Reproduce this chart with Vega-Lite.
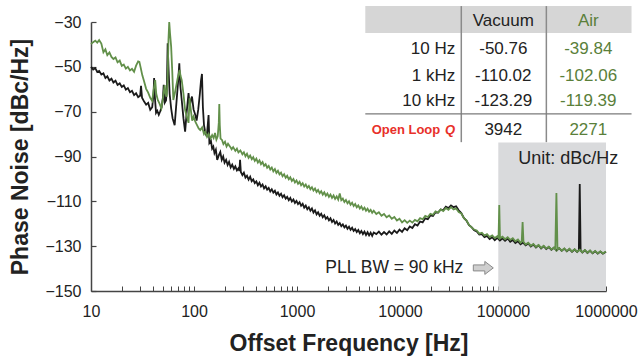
{
"$schema": "https://vega.github.io/schema/vega-lite/v6.json",
"width": 515, "height": 269,
"autosize": {"type": "none"},
"padding": {"left": 91, "top": 22, "right": 34, "bottom": 71},
"background": "white",
"config": {"view": {"stroke": null}, "font": "Liberation Sans"},
"datasets": {
"vac": [
{"f":10,"v":-50.0},{"f":10.5,"v":-51.2},{"f":11,"v":-50.6},{"f":11.5,"v":-52.3},{"f":12,"v":-51.8},{"f":12.6,"v":-53.4},{"f":13.2,"v":-52.9},{"f":13.8,"v":-55.0},{"f":14.4,"v":-54.2},{"f":15.1,"v":-56.1},{"f":15.8,"v":-55.3},{"f":16.5,"v":-57.0},{"f":17.3,"v":-56.2},{"f":18.1,"v":-58.1},{"f":19,"v":-57.4},{"f":19.9,"v":-59.0},{"f":20.8,"v":-58.3},{"f":21.8,"v":-60.2},{"f":22.8,"v":-59.5},{"f":23.9,"v":-61.3},{"f":25,"v":-60.7},{"f":26.2,"v":-62.6},{"f":27.4,"v":-61.8},{"f":28.7,"v":-63.5},{"f":30,"v":-62.9},{"f":30.6,"v":-58.5},{"f":31.3,"v":-63.8},{"f":32.8,"v":-65.5},{"f":34.3,"v":-66.9},{"f":35.9,"v":-66.1},{"f":37.6,"v":-69.2},{"f":39.3,"v":-68.0},{"f":40.5,"v":-62.0},{"f":41,"v":-55.0},{"f":41.7,"v":-63.5},{"f":42.8,"v":-70.5},{"f":44,"v":-69.6},{"f":45.5,"v":-71.4},{"f":47,"v":-69.8},{"f":48.5,"v":-68.0},{"f":50,"v":-63.5},{"f":50.8,"v":-58.0},{"f":52,"v":-66.0},{"f":53.5,"v":-65.0},{"f":54.5,"v":-60.0},{"f":55.5,"v":-39.5},{"f":56.5,"v":-50.0},{"f":58,"v":-62.0},{"f":60,"v":-68.5},{"f":62,"v":-73.0},{"f":64.9,"v":-76.0},{"f":67,"v":-68.0},{"f":70,"v":-57.0},{"f":72,"v":-48.4},{"f":73.5,"v":-58.0},{"f":76,"v":-64.8},{"f":79,"v":-73.0},{"f":82,"v":-78.9},{"f":85,"v":-70.0},{"f":88.5,"v":-61.7},{"f":91,"v":-68.0},{"f":93,"v":-65.0},{"f":95.6,"v":-63.3},{"f":99,"v":-69.0},{"f":103,"v":-71.5},{"f":106,"v":-74.0},{"f":110,"v":-69.0},{"f":114,"v":-62.0},{"f":117,"v":-56.0},{"f":119.5,"v":-53.2},{"f":122,"v":-68.0},{"f":125,"v":-76.0},{"f":129,"v":-79.5},{"f":133,"v":-81.0},{"f":136,"v":-76.0},{"f":138.5,"v":-71.5},{"f":141,"v":-84.0},{"f":146,"v":-83.0},{"f":150,"v":-86.5},{"f":154,"v":-85.6},{"f":158,"v":-88.5},{"f":163,"v":-87.0},{"f":168,"v":-91.5},{"f":174,"v":-89.5},{"f":180,"v":-88.0},{"f":186,"v":-91.5},{"f":192,"v":-90.0},{"f":198,"v":-92.8},{"f":205,"v":-91.5},{"f":212,"v":-93.8},{"f":219,"v":-92.4},{"f":227,"v":-94.9},{"f":235,"v":-93.6},{"f":244,"v":-95.5},{"f":252,"v":-94.4},{"f":261,"v":-96.2},{"f":270,"v":-95.3},{"f":276,"v":-96.4},{"f":280,"v":-91.5},{"f":285,"v":-96.9},{"f":295,"v":-98.3},{"f":305,"v":-97.2},{"f":316,"v":-99.4},{"f":327,"v":-98.6},{"f":339,"v":-100.3},{"f":351,"v":-99.0},{"f":363,"v":-101.0},{"f":376,"v":-100.2},{"f":389,"v":-101.9},{"f":403,"v":-101.1},{"f":417,"v":-102.8},{"f":432,"v":-101.7},{"f":447,"v":-103.4},{"f":463,"v":-102.5},{"f":479,"v":-104.2},{"f":496,"v":-103.3},{"f":513,"v":-104.8},{"f":531,"v":-104.0},{"f":550,"v":-105.6},{"f":569,"v":-104.6},{"f":589,"v":-106.1},{"f":610,"v":-105.3},{"f":631,"v":-106.9},{"f":653,"v":-106.0},{"f":676,"v":-107.5},{"f":700,"v":-106.6},{"f":724,"v":-108.2},{"f":750,"v":-107.3},{"f":776,"v":-108.8},{"f":803,"v":-108.0},{"f":832,"v":-109.5},{"f":861,"v":-108.5},{"f":891,"v":-110.1},{"f":923,"v":-109.2},{"f":955,"v":-110.7},{"f":989,"v":-109.8},{"f":1023,"v":-111.2},{"f":1059,"v":-110.4},{"f":1096,"v":-112.0},{"f":1135,"v":-111.1},{"f":1175,"v":-112.8},{"f":1216,"v":-111.9},{"f":1259,"v":-113.5},{"f":1303,"v":-112.6},{"f":1349,"v":-114.2},{"f":1396,"v":-113.2},{"f":1445,"v":-115.0},{"f":1496,"v":-114.0},{"f":1549,"v":-115.8},{"f":1603,"v":-114.9},{"f":1660,"v":-116.4},{"f":1718,"v":-115.5},{"f":1778,"v":-117.1},{"f":1841,"v":-116.2},{"f":1905,"v":-117.8},{"f":1972,"v":-117.0},{"f":2042,"v":-118.5},{"f":2113,"v":-117.6},{"f":2188,"v":-119.2},{"f":2265,"v":-118.3},{"f":2344,"v":-119.9},{"f":2427,"v":-119.0},{"f":2512,"v":-120.5},{"f":2600,"v":-119.7},{"f":2692,"v":-121.1},{"f":2786,"v":-120.3},{"f":2884,"v":-121.6},{"f":2985,"v":-120.8},{"f":3090,"v":-122.2},{"f":3199,"v":-121.3},{"f":3311,"v":-122.7},{"f":3428,"v":-121.8},{"f":3548,"v":-123.2},{"f":3673,"v":-122.4},{"f":3802,"v":-123.7},{"f":3936,"v":-122.8},{"f":4074,"v":-124.2},{"f":4217,"v":-123.2},{"f":4365,"v":-124.6},{"f":4519,"v":-123.5},{"f":4677,"v":-125.0},{"f":4842,"v":-123.8},{"f":5012,"v":-125.2},{"f":5188,"v":-124.0},{"f":5370,"v":-125.4},{"f":5559,"v":-123.9},{"f":5888,"v":-124.6},{"f":6237,"v":-123.5},{"f":6607,"v":-124.9},{"f":6998,"v":-123.7},{"f":7413,"v":-124.8},{"f":7852,"v":-123.4},{"f":8318,"v":-124.5},{"f":8810,"v":-123.0},{"f":9333,"v":-124.1},{"f":9886,"v":-122.6},{"f":10471,"v":-123.6},{"f":11092,"v":-122.0},{"f":11749,"v":-122.9},{"f":12445,"v":-121.2},{"f":13183,"v":-121.9},{"f":13964,"v":-120.2},{"f":14791,"v":-120.8},{"f":15668,"v":-119.0},{"f":16596,"v":-119.4},{"f":17579,"v":-117.6},{"f":18621,"v":-118.0},{"f":19724,"v":-116.3},{"f":20893,"v":-116.5},{"f":22131,"v":-114.9},{"f":23442,"v":-115.0},{"f":24831,"v":-113.6},{"f":26303,"v":-113.9},{"f":27861,"v":-112.4},{"f":29512,"v":-113.0},{"f":31261,"v":-111.8},{"f":33113,"v":-112.6},{"f":35075,"v":-112.2},{"f":37154,"v":-114.0},{"f":39355,"v":-115.2},{"f":41687,"v":-117.4},{"f":44157,"v":-118.6},{"f":46774,"v":-120.6},{"f":49545,"v":-121.5},{"f":52481,"v":-122.9},{"f":55590,"v":-123.4},{"f":58884,"v":-124.8},{"f":62373,"v":-124.6},{"f":66069,"v":-126.0},{"f":69984,"v":-125.4},{"f":74131,"v":-126.8},{"f":78524,"v":-126.0},{"f":83176,"v":-127.3},{"f":88105,"v":-126.3},{"f":93325,"v":-127.5},{"f":98855,"v":-126.5},{"f":104713,"v":-127.6},{"f":110917,"v":-126.6},{"f":117490,"v":-128.0},{"f":124451,"v":-127.2},{"f":131826,"v":-128.6},{"f":139637,"v":-127.8},{"f":147911,"v":-129.2},{"f":156675,"v":-128.4},{"f":165959,"v":-129.6},{"f":175792,"v":-128.8},{"f":186209,"v":-130.2},{"f":197242,"v":-129.3},{"f":208930,"v":-130.6},{"f":221309,"v":-129.6},{"f":234423,"v":-131.0},{"f":248313,"v":-130.0},{"f":263027,"v":-131.3},{"f":278612,"v":-130.4},{"f":295121,"v":-131.6},{"f":312607,"v":-130.7},{"f":331131,"v":-131.9},{"f":350752,"v":-130.9},{"f":371535,"v":-132.1},{"f":393550,"v":-131.1},{"f":416869,"v":-132.3},{"f":441570,"v":-131.3},{"f":467735,"v":-132.5},{"f":495450,"v":-131.5},{"f":524807,"v":-132.6},{"f":545000,"v":-131.8},{"f":556000,"v":-102.3},{"f":567000,"v":-131.9},{"f":588843,"v":-132.8},{"f":623735,"v":-131.8},{"f":660693,"v":-133.0},{"f":699842,"v":-132.0},{"f":741310,"v":-133.2},{"f":785236,"v":-132.2},{"f":831764,"v":-133.3},{"f":881049,"v":-132.4},{"f":933254,"v":-133.3},{"f":1000000,"v":-132.5}
],
"air": [
{"f":10,"v":-39.8},{"f":10.5,"v":-39.0},{"f":11,"v":-38.3},{"f":11.5,"v":-39.2},{"f":12,"v":-38.1},{"f":12.6,"v":-39.6},{"f":13.2,"v":-43.5},{"f":13.8,"v":-42.2},{"f":14.4,"v":-44.8},{"f":15.1,"v":-43.6},{"f":15.8,"v":-45.6},{"f":16.5,"v":-46.5},{"f":17.3,"v":-45.8},{"f":18.1,"v":-48.0},{"f":19,"v":-47.2},{"f":19.9,"v":-49.6},{"f":20.8,"v":-49.0},{"f":21.8,"v":-50.8},{"f":22.8,"v":-50.0},{"f":23.9,"v":-51.6},{"f":25,"v":-50.9},{"f":26.2,"v":-52.2},{"f":27.4,"v":-49.5},{"f":28.7,"v":-47.6},{"f":29.5,"v":-47.8},{"f":30.4,"v":-50.5},{"f":31.5,"v":-53.8},{"f":32.8,"v":-56.5},{"f":34.3,"v":-59.8},{"f":35.9,"v":-61.5},{"f":37.6,"v":-63.8},{"f":39.3,"v":-65.2},{"f":40.5,"v":-60.5},{"f":42,"v":-55.9},{"f":43,"v":-62.0},{"f":44.5,"v":-64.8},{"f":46.4,"v":-66.5},{"f":48.2,"v":-68.5},{"f":50,"v":-64.0},{"f":51.9,"v":-58.2},{"f":53,"v":-62.0},{"f":54.3,"v":-63.3},{"f":55.5,"v":-55.0},{"f":56.5,"v":-38.0},{"f":57.5,"v":-30.0},{"f":58.5,"v":-35.0},{"f":60,"v":-41.0},{"f":61.5,"v":-52.0},{"f":63,"v":-64.8},{"f":65,"v":-62.0},{"f":67,"v":-58.8},{"f":69.5,"v":-55.0},{"f":72.5,"v":-51.4},{"f":74,"v":-54.0},{"f":76,"v":-55.9},{"f":79,"v":-62.0},{"f":82,"v":-69.3},{"f":85,"v":-72.0},{"f":88.5,"v":-75.0},{"f":90.5,"v":-64.0},{"f":93,"v":-69.0},{"f":96,"v":-74.0},{"f":99,"v":-72.2},{"f":103,"v":-74.5},{"f":107,"v":-76.0},{"f":111,"v":-77.5},{"f":115,"v":-78.2},{"f":120,"v":-77.0},{"f":125,"v":-80.0},{"f":129,"v":-79.0},{"f":134,"v":-81.2},{"f":139,"v":-80.0},{"f":145,"v":-82.0},{"f":150,"v":-80.5},{"f":155,"v":-81.8},{"f":160,"v":-79.5},{"f":165,"v":-82.5},{"f":170,"v":-81.0},{"f":174,"v":-75.0},{"f":176,"v":-66.6},{"f":178,"v":-76.0},{"f":181,"v":-82.0},{"f":187,"v":-82.6},{"f":193,"v":-84.4},{"f":200,"v":-83.4},{"f":207,"v":-85.5},{"f":214,"v":-84.3},{"f":224,"v":-85.6},{"f":232,"v":-86.8},{"f":240,"v":-85.8},{"f":252,"v":-87.5},{"f":261,"v":-86.5},{"f":270,"v":-88.2},{"f":282,"v":-87.3},{"f":295,"v":-89.0},{"f":305,"v":-88.1},{"f":316,"v":-89.9},{"f":327,"v":-88.8},{"f":339,"v":-90.6},{"f":351,"v":-89.6},{"f":364,"v":-91.2},{"f":376,"v":-90.3},{"f":389,"v":-92.0},{"f":403,"v":-91.0},{"f":417,"v":-92.7},{"f":432,"v":-91.7},{"f":447,"v":-93.4},{"f":463,"v":-92.5},{"f":479,"v":-94.2},{"f":496,"v":-93.4},{"f":513,"v":-95.0},{"f":531,"v":-94.2},{"f":550,"v":-95.8},{"f":569,"v":-94.9},{"f":589,"v":-96.6},{"f":610,"v":-95.6},{"f":631,"v":-97.3},{"f":653,"v":-96.4},{"f":676,"v":-98.0},{"f":700,"v":-97.2},{"f":724,"v":-98.8},{"f":750,"v":-97.9},{"f":776,"v":-99.5},{"f":803,"v":-98.6},{"f":832,"v":-100.2},{"f":861,"v":-99.3},{"f":891,"v":-100.9},{"f":923,"v":-100.0},{"f":955,"v":-101.6},{"f":989,"v":-100.7},{"f":1023,"v":-102.2},{"f":1059,"v":-101.3},{"f":1096,"v":-102.8},{"f":1135,"v":-101.9},{"f":1175,"v":-103.4},{"f":1216,"v":-102.5},{"f":1259,"v":-104.0},{"f":1303,"v":-103.1},{"f":1349,"v":-104.6},{"f":1396,"v":-103.7},{"f":1445,"v":-105.2},{"f":1496,"v":-104.3},{"f":1549,"v":-105.8},{"f":1603,"v":-104.9},{"f":1660,"v":-106.4},{"f":1718,"v":-105.5},{"f":1778,"v":-107.0},{"f":1841,"v":-106.0},{"f":1905,"v":-107.5},{"f":1972,"v":-106.5},{"f":2042,"v":-108.0},{"f":2113,"v":-107.0},{"f":2188,"v":-108.5},{"f":2265,"v":-107.4},{"f":2344,"v":-108.9},{"f":2427,"v":-107.8},{"f":2512,"v":-109.2},{"f":2600,"v":-106.5},{"f":2692,"v":-109.5},{"f":2786,"v":-108.8},{"f":2884,"v":-110.3},{"f":2985,"v":-109.4},{"f":3090,"v":-110.9},{"f":3199,"v":-110.0},{"f":3311,"v":-111.5},{"f":3428,"v":-110.6},{"f":3548,"v":-112.1},{"f":3673,"v":-111.2},{"f":3802,"v":-112.7},{"f":3936,"v":-111.8},{"f":4074,"v":-113.2},{"f":4217,"v":-112.3},{"f":4365,"v":-113.7},{"f":4519,"v":-112.8},{"f":4677,"v":-114.2},{"f":4842,"v":-113.3},{"f":5012,"v":-114.6},{"f":5188,"v":-113.8},{"f":5370,"v":-115.1},{"f":5559,"v":-114.2},{"f":5888,"v":-115.7},{"f":6237,"v":-114.9},{"f":6607,"v":-116.4},{"f":6998,"v":-115.6},{"f":7413,"v":-117.1},{"f":7852,"v":-116.3},{"f":8318,"v":-117.8},{"f":8810,"v":-117.0},{"f":9333,"v":-118.6},{"f":9886,"v":-117.8},{"f":10471,"v":-119.4},{"f":11092,"v":-118.4},{"f":11749,"v":-119.6},{"f":12445,"v":-118.6},{"f":13183,"v":-119.5},{"f":13964,"v":-118.3},{"f":14791,"v":-118.9},{"f":15668,"v":-117.5},{"f":16596,"v":-118.0},{"f":17579,"v":-116.5},{"f":18621,"v":-117.0},{"f":19724,"v":-115.6},{"f":20893,"v":-116.0},{"f":22131,"v":-114.5},{"f":23442,"v":-115.0},{"f":24831,"v":-113.6},{"f":26303,"v":-114.3},{"f":27861,"v":-113.0},{"f":29512,"v":-113.8},{"f":31261,"v":-112.6},{"f":33113,"v":-113.6},{"f":35075,"v":-113.2},{"f":37154,"v":-114.8},{"f":39355,"v":-115.4},{"f":41687,"v":-117.5},{"f":44157,"v":-118.5},{"f":46774,"v":-120.5},{"f":49545,"v":-121.6},{"f":52481,"v":-122.6},{"f":55590,"v":-123.0},{"f":58884,"v":-124.4},{"f":62373,"v":-124.0},{"f":66069,"v":-125.3},{"f":69984,"v":-124.6},{"f":74131,"v":-125.9},{"f":78524,"v":-125.2},{"f":83176,"v":-126.4},{"f":88105,"v":-125.6},{"f":90500,"v":-126.2},{"f":92000,"v":-111.6},{"f":93500,"v":-126.5},{"f":98855,"v":-125.8},{"f":104713,"v":-126.9},{"f":110917,"v":-126.0},{"f":117490,"v":-127.2},{"f":124451,"v":-126.4},{"f":131826,"v":-127.8},{"f":139637,"v":-127.0},{"f":147911,"v":-128.5},{"f":152000,"v":-127.8},{"f":155000,"v":-119.2},{"f":158000,"v":-128.0},{"f":165959,"v":-129.3},{"f":175792,"v":-128.5},{"f":186209,"v":-129.8},{"f":197242,"v":-129.0},{"f":208930,"v":-130.4},{"f":221309,"v":-129.5},{"f":234423,"v":-130.8},{"f":248313,"v":-129.8},{"f":263027,"v":-131.1},{"f":278612,"v":-130.2},{"f":295121,"v":-131.5},{"f":312607,"v":-130.6},{"f":322000,"v":-131.4},{"f":330000,"v":-106.3},{"f":338000,"v":-131.6},{"f":350752,"v":-130.8},{"f":371535,"v":-132.0},{"f":393550,"v":-131.0},{"f":416869,"v":-132.2},{"f":441570,"v":-131.2},{"f":467735,"v":-132.4},{"f":495450,"v":-131.4},{"f":524807,"v":-132.5},{"f":556000,"v":-131.6},{"f":588843,"v":-132.7},{"f":623735,"v":-131.7},{"f":660693,"v":-132.9},{"f":699842,"v":-131.9},{"f":741310,"v":-133.1},{"f":785236,"v":-132.1},{"f":831764,"v":-133.2},{"f":881049,"v":-132.3},{"f":933254,"v":-133.2},{"f":1000000,"v":-132.4}
]
},
"encoding": {
"x": {"field": "f", "type": "quantitative",
  "scale": {"type": "log", "domain": [10, 1000000], "nice": false},
  "axis": {"title": "Offset Frequency [Hz]",
    "values": [10,20,30,40,50,60,70,80,90,100,200,300,400,500,600,700,800,900,1000,2000,3000,4000,5000,6000,7000,8000,9000,10000,20000,30000,40000,50000,60000,70000,80000,90000,100000,200000,300000,400000,500000,600000,700000,800000,900000,1000000],
    "labelExpr": "indexof(['10','100','1000','10000','100000','1000000'], '' + datum.value) >= 0 ? '' + datum.value : ''",
    "grid": false, "tickSize": -5, "tickColor": "#444", "tickWidth": 1,
    "domainColor": "#444", "domainWidth": 1.5,
    "labelFont": "Liberation Sans", "labelFontSize": 16, "labelColor": "#222",
    "labelPadding": 17, "labelOverlap": false, "labelFlush": false, "labelBound": false,
    "titleFont": "Liberation Sans", "titleFontSize": 23, "titleFontWeight": "bold", "titleColor": "#222", "titlePadding": 13}},
"y": {"field": "v", "type": "quantitative",
  "scale": {"domain": [-150, -30], "nice": false, "zero": false},
  "axis": {"title": "Phase Noise [dBc/Hz]",
    "values": [-150,-130,-110,-90,-70,-50,-30],
    "grid": false, "tickSize": -5, "tickColor": "#444", "tickWidth": 1.2,
    "domainColor": "#444", "domainWidth": 1.5,
    "labelFont": "Liberation Sans", "labelFontSize": 16, "labelColor": "#222",
    "labelPadding": 15, "labelOverlap": false,
    "titleFont": "Liberation Sans", "titleFontSize": 23, "titleFontWeight": "bold", "titleColor": "#222", "titlePadding": 12}}
},
"layer": [
{"data": {"values": [{"f": 90000, "f2": 1000000, "v": -150, "v2": -83.8}]},
 "mark": {"type": "rect", "color": "#d9dadc"},
 "encoding": {"x2": {"field": "f2"}, "y2": {"field": "v2"}}},
{"data": {"values": [{"f": 4603, "f2": 1770000, "v": -22.9, "v2": -34.9}]},
 "mark": {"type": "rect", "color": "#d6d6d6"},
 "encoding": {"x2": {"field": "f2"}, "y2": {"field": "v2"}}},
{"data": {"values": [{"f": 39360, "v": -22.9, "v2": -83.6}, {"f": 263600, "v": -22.9, "v2": -83.6}]},
 "mark": {"type": "rule", "color": "#8a8a8a", "strokeWidth": 1.5},
 "encoding": {"y2": {"field": "v2"}}},
{"data": {"values": [{"f": 4603, "f2": 1770000, "v": -71.0}]},
 "mark": {"type": "rule", "color": "#7a7a7a", "strokeWidth": 1.3},
 "encoding": {"x2": {"field": "f2"}}},
{"data": {"name": "vac"},
 "mark": {"type": "line", "color": "#1a1a1a", "strokeWidth": 1.8}},
{"data": {"name": "air"},
 "mark": {"type": "line", "color": "#62904a", "strokeWidth": 1.8}},
{"data": {"values": [{"f": 34360, "v": -42.1, "t": "10 Hz"}, {"f": 34360, "v": -54.1, "t": "1 kHz"}, {"f": 34360, "v": -65.2, "t": "10 kHz"}]},
 "mark": {"type": "text", "align": "right", "baseline": "middle", "font": "Liberation Sans", "fontSize": 17, "color": "#222"},
 "encoding": {"text": {"field": "t"}}},
{"data": {"values": [{"f": 100700, "v": -29.6, "t": "Vacuum"}, {"f": 100700, "v": -42.1, "t": "-50.76"}, {"f": 100700, "v": -54.1, "t": "-110.02"}, {"f": 100700, "v": -65.2, "t": "-123.29"}, {"f": 100700, "v": -78.2, "t": "3942"}]},
 "mark": {"type": "text", "align": "center", "baseline": "middle", "font": "Liberation Sans", "fontSize": 17, "color": "#222"},
 "encoding": {"text": {"field": "t"}}},
{"data": {"values": [{"f": 673000, "v": -29.6, "t": "Air"}, {"f": 673000, "v": -42.1, "t": "-39.84"}, {"f": 673000, "v": -54.1, "t": "-102.06"}, {"f": 673000, "v": -65.2, "t": "-119.39"}, {"f": 673000, "v": -78.2, "t": "2271"}]},
 "mark": {"type": "text", "align": "center", "baseline": "middle", "font": "Liberation Sans", "fontSize": 17, "color": "#5a7f3a"},
 "encoding": {"text": {"field": "t"}}},
{"data": {"values": [{"f": 24600, "v": -78.2, "t": "Open Loop"}]},
 "mark": {"type": "text", "align": "right", "baseline": "middle", "font": "Liberation Sans", "fontSize": 13, "fontWeight": "bold", "color": "#e8302a"},
 "encoding": {"text": {"field": "t"}}},
{"data": {"values": [{"f": 34360, "v": -78.2, "t": "Q"}]},
 "mark": {"type": "text", "align": "right", "baseline": "middle", "font": "Liberation Sans", "fontSize": 13, "fontWeight": "bold", "fontStyle": "italic", "color": "#e8302a"},
 "encoding": {"text": {"field": "t"}}},
{"data": {"values": [{"f": 430500, "v": -91.1, "t": "Unit: dBc/Hz"}]},
 "mark": {"type": "text", "align": "center", "baseline": "middle", "font": "Liberation Sans", "fontSize": 18, "color": "#222"},
 "encoding": {"text": {"field": "t"}}},
{"data": {"values": [{"f": 41180, "v": -139.7, "t": "PLL BW = 90 kHz"}]},
 "mark": {"type": "text", "align": "right", "baseline": "middle", "font": "Liberation Sans", "fontSize": 17.5, "color": "#222"},
 "encoding": {"text": {"field": "t"}}},
{"data": {"values": [{"f": 64400, "v": -139.7}]},
 "mark": {"type": "point", "filled": true, "shape": "M-1,-0.3 L0.15,-0.3 L0.15,-0.65 L1,0 L0.15,0.65 L0.15,0.3 L-1,0.3 Z", "size": 400, "fill": "#cfcfcf", "stroke": "#8a8a8a", "strokeWidth": 1, "opacity": 1}}
]
}
